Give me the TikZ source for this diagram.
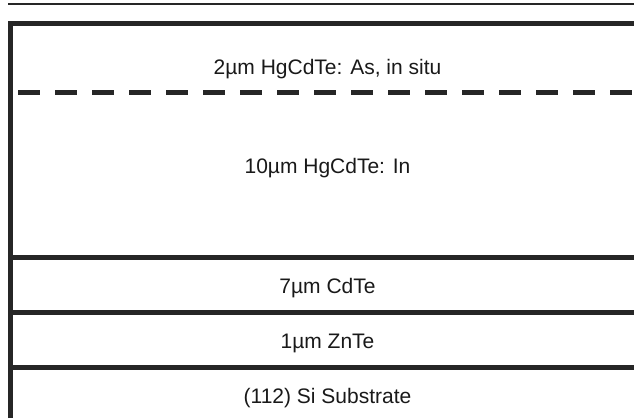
\documentclass[tikz,border=0pt]{standalone}
\usepackage{fontspec}
\setmainfont{Liberation Sans}
\usepackage{tikz}

\begin{document}
\begin{tikzpicture}[x=1pt,y=-1pt,
    layer/.style={line width=5pt,black!85},
    lbl/.style={anchor=base,inner sep=0pt,text=black!90,font=\fontsize{21}{25}\selectfont}]
    \useasboundingbox (0,0) rectangle (634,418);
    \draw[line width=2pt,black!85] (8,4)--(634,4);
    \draw[layer] (10.5,418)--(10.5,23.5)--(634,23.5);
    \draw[layer,dash pattern=on 22pt off 15pt] (18,92.5)--(634,92.5);
    \draw[layer] (8,257.5)--(634,257.5);
    \draw[layer] (8,312.5)--(634,312.5);
    \draw[layer] (8,367.5)--(634,367.5);
    \node[lbl] (cap) at (327.5,74) {2µm HgCdTe: As, in situ};
    \node[lbl] (absorber) at (327.5,173) {10µm HgCdTe: In};
    \node[lbl] (cdte) at (327.5,293) {7µm CdTe};
    \node[lbl] (znte) at (327.5,348) {1µm ZnTe};
    \node[lbl] (substrate) at (327.5,403) {(112) Si Substrate};
\end{tikzpicture}
\end{document}
